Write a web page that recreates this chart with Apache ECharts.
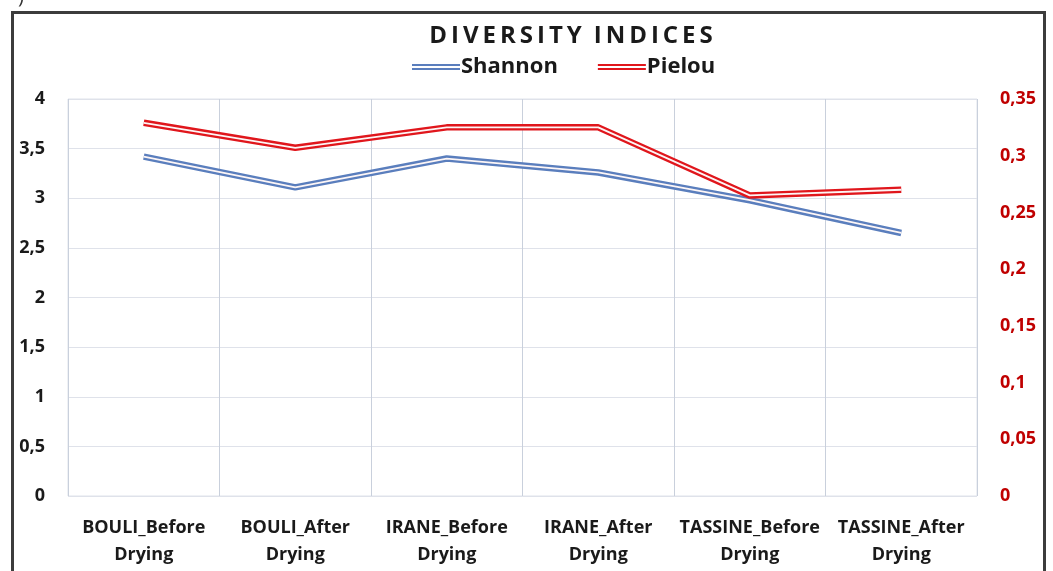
<!DOCTYPE html>
<html>
<head>
<meta charset="utf-8">
<script src="https://cdn.jsdelivr.net/npm/echarts@6/dist/echarts.min.js"></script>
<style>
  html, body { margin: 0; padding: 0; background: #fff; }
  #chart { width: 1053px; height: 571px; }
</style>
</head>
<body>
<div id="chart"></div>
<script>
// Sites sampled before and after drying
const categories = [
  'BOULI_Before Drying', 'BOULI_After Drying',
  'IRANE_Before Drying', 'IRANE_After Drying',
  'TASSINE_Before Drying', 'TASSINE_After Drying'
];
// Shannon index (left axis)
const shannon = [3.42, 3.11, 3.40, 3.26, 2.98, 2.65];
// Pielou evenness (right axis)
const pielou = [0.329, 0.307, 0.325, 0.325, 0.265, 0.270];

const leftTicks = { min: 0, max: 4, interval: 0.5 };
const rightTicks = { min: 0, max: 0.35, interval: 0.05 };

const FONT = 'Open Sans';
const comma = v => String(+v.toFixed(2)).replace('.', ',');
const twinIcon = 'path://M0,0H48V2H0Z M0,4H48V6H0Z';

const chart = echarts.init(document.getElementById('chart'), null, { renderer: 'canvas' });

// a wide coloured stroke with a thin white stroke on top gives the double line
function doubleLine(name, data, color, axisIndex) {
  return [
    {
      name: name, type: 'line', yAxisIndex: axisIndex, data: data,
      symbol: 'none', color: color,
      lineStyle: { color: color, width: 6.5 }, z: 3
    },
    {
      name: name + ' ', type: 'line', yAxisIndex: axisIndex, data: data,
      symbol: 'none', color: '#ffffff', silent: true,
      lineStyle: { color: '#fdf6f6', width: 1.8 }, z: 4
    }
  ];
}

chart.setOption({
  animation: false,
  title: {
    text: 'D\u2009I\u2009V\u2009E\u2009R\u2009S\u2009I\u2009T\u2009Y\u2002I\u2009N\u2009D\u2009I\u2009C\u2009E\u2009S',
    left: 566, top: 19, textAlign: 'center',
    textStyle: { fontFamily: FONT, fontSize: 24, fontWeight: 'bold', color: '#1a1a1a' }
  },
  legend: {
    data: ['Shannon', 'Pielou'],
    top: 51, left: 407,
    icon: twinIcon, itemWidth: 48, itemHeight: 6, itemGap: 40,
    textStyle: { fontFamily: FONT, fontSize: 22, fontWeight: 'bold', color: '#1a1a1a', padding: [0, 0, 0, -4] }
  },
  grid: { left: 68, right: 76, top: 99, bottom: 75, show: true, borderColor: '#dfe2ea', borderWidth: 1 },
  xAxis: {
    type: 'category', data: categories, boundaryGap: true,
    axisLine: { show: false }, axisTick: { show: false },
    splitLine: { show: true, lineStyle: { color: '#c9d0dc', width: 1 } },
    axisLabel: {
      interval: 0, margin: 18, lineHeight: 27,
      fontFamily: FONT, fontSize: 18, fontWeight: 'bold', color: '#1a1a1a',
      formatter: v => v.replace(' ', '\n')
    }
  },
  yAxis: [
    {
      type: 'value', min: leftTicks.min, max: leftTicks.max, interval: leftTicks.interval,
      axisLine: { show: false }, axisTick: { show: false },
      splitLine: { show: true, lineStyle: { color: '#dfe2ea', width: 1 } },
      axisLabel: { margin: 23, fontFamily: FONT, fontSize: 18, fontWeight: 'bold', color: '#1a1a1a', formatter: comma }
    },
    {
      type: 'value', min: rightTicks.min, max: rightTicks.max, interval: rightTicks.interval,
      axisLine: { show: false }, axisTick: { show: false }, splitLine: { show: false },
      axisLabel: { margin: 23, fontFamily: FONT, fontSize: 18, fontWeight: 'bold', color: '#c00000', formatter: comma }
    }
  ],
  series: [].concat(
    doubleLine('Shannon', shannon, '#5a7ebd', 0),
    doubleLine('Pielou', pielou, '#e0161c', 1)
  ),
  graphic: [
    {
      type: 'rect', left: 10, top: 10, silent: true,
      shape: { width: 1032, height: 600 },
      style: { fill: 'none', stroke: '#3c3c3c', lineWidth: 3 }
    },
    {
      type: 'text', left: 18, top: -13, silent: true,
      style: { text: ')', fontFamily: FONT, fontSize: 20, fill: '#333' }
    }
  ]
});
</script>
</body>
</html>
